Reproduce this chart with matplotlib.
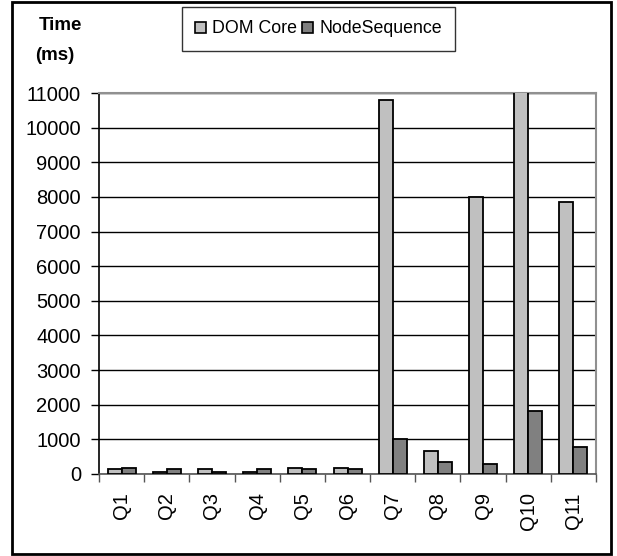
import matplotlib.pyplot as plt
import numpy as np
from matplotlib.patches import Patch, Rectangle

plt.rcParams['font.family'] = ['Liberation Sans', 'DejaVu Sans']

queries = ['Q1', 'Q2', 'Q3', 'Q4', 'Q5', 'Q6', 'Q7', 'Q8', 'Q9', 'Q10', 'Q11']
dom_core = [135, 70, 135, 70, 185, 185, 10800, 660, 8000, 11100, 7850]
node_seq = [185, 135, 70, 135, 135, 135, 1000, 360, 300, 1830, 770]
series_names = ['DOM Core', 'NodeSequence']
yticks = list(range(0, 12000, 1000))

fig = plt.figure(figsize=(6.17, 5.56), dpi=100)
ax = fig.add_axes([0.1605, 0.1475, 0.8055, 0.6852])

x = np.arange(len(queries))
w = 0.31
ax.bar(x - w / 2, dom_core, w, color='#c0c0c0', edgecolor='black', linewidth=1.3, zorder=3)
ax.bar(x + w / 2, node_seq, w, color='#808080', edgecolor='black', linewidth=1.3, zorder=3)

ax.set_xlim(-0.5, len(queries) - 0.5)
ax.set_ylim(0, 11000)
ax.set_yticks(yticks)
ax.set_yticklabels([str(v) for v in yticks])
ax.yaxis.grid(True, color='black', linewidth=1.0, zorder=0)
ax.tick_params(axis='y', length=6, width=1, pad=7, direction='out', labelsize=14.5)

ax.set_xticks(x)
ax.set_xticklabels(queries, rotation=90)
ax.tick_params(axis='x', which='major', length=0, pad=13, labelsize=14.5)
ax.set_xticks(np.arange(-0.5, len(queries), 1), minor=True)
ax.tick_params(axis='x', which='minor', length=6, width=1, color='#555555')

ax.spines['left'].set_color('black')
ax.spines['left'].set_linewidth(1.2)
ax.spines['bottom'].set_color('#555555')
ax.spines['bottom'].set_linewidth(1.2)
for s in ('top', 'right'):
    ax.spines[s].set_color('#909090')
    ax.spines[s].set_linewidth(1.5)

fig.text(0.063, 0.955, 'Time', fontsize=13.5, fontweight='bold', ha='left', va='center')
fig.text(0.057, 0.901, '(ms)', fontsize=13.5, fontweight='bold', ha='left', va='center')

handles = [Patch(facecolor='#c0c0c0', edgecolor='black', linewidth=1.2),
           Patch(facecolor='#808080', edgecolor='black', linewidth=1.2)]
leg = fig.legend(handles, series_names, loc='center', bbox_to_anchor=(0.516, 0.948),
                 ncol=2, fontsize=12.8, frameon=True, fancybox=False, edgecolor='black',
                 handlelength=0.6, handleheight=0.6, handletextpad=0.35,
                 columnspacing=0.3, borderpad=0.75, borderaxespad=0)
leg.get_frame().set_linewidth(1.0)

# border round the whole figure
fig.patches.append(Rectangle((0.02, 0.003), 0.97, 0.994, transform=fig.transFigure,
                             fill=False, edgecolor='black', linewidth=2))

fig.savefig('out.png', dpi=100, facecolor='white')
